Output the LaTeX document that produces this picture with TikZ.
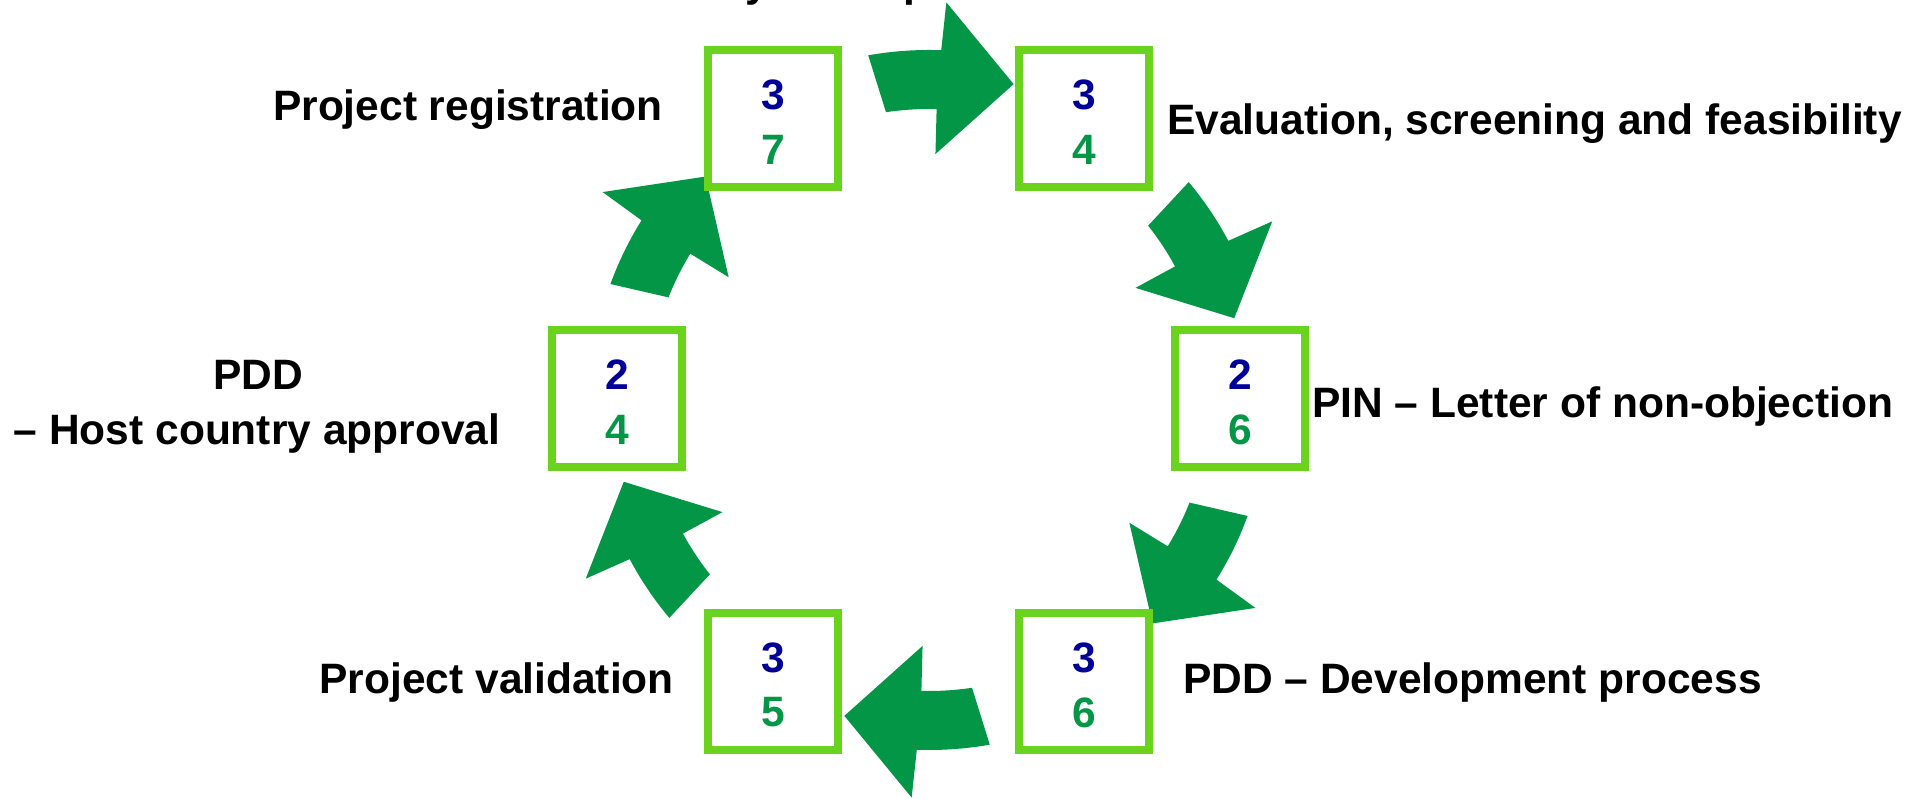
\documentclass[tikz,border=0pt]{standalone}
\usepackage{fontspec}
\setmainfont{Liberation Sans}
\definecolor{boxgreen}{RGB}{106,211,30}
\definecolor{arrowgreen}{RGB}{3,150,70}
\definecolor{numblue}{RGB}{0,0,153}
\definecolor{numgreen}{RGB}{3,150,70}
\tikzset{
  numbox/.style={draw=boxgreen, line width=8pt, minimum width=130pt, minimum height=137pt, inner sep=0pt},
  dig/.style={font=\bfseries\fontsize{42.5}{50}\selectfont, inner sep=0pt},
  lbl/.style={font=\bfseries\fontsize{42.5}{50}\selectfont, inner sep=0pt, text=black},
  cyc/.style={fill=arrowgreen}
}
\newcommand\cyclearrow[2]{%
  \begin{scope}[shift={(929,399)}, rotate=#1]
    \fill[cyc] (100:{350+#2}) arc[start angle=100, end angle=88, radius={350+#2}]
      -- (87.5:{398+#2}) -- (75:{327+#2}) -- (88.5:{246+#2}) -- (88.5:{291+#2})
      arc[start angle=88.5, end angle=98.5, radius={291+#2}] -- cycle;
  \end{scope}}
\begin{document}
\begin{tikzpicture}[x=1pt,y=1pt]
\useasboundingbox (0,0) rectangle (1926,799);
\clip (0,0) rectangle (1926,799);
\fill[white] (0,0) rectangle (1926,799);
% arrows
\cyclearrow{0}{0}
\cyclearrow{-60}{-11}
\cyclearrow{-120}{-11}
\cyclearrow{180}{0}
\cyclearrow{120}{-11}
\cyclearrow{60}{-11}
% boxes
\node[numbox] (A) at (773,680) {};
\node[numbox] (B) at (1084,680) {};
\node[numbox] (C) at (1240,400) {};
\node[numbox] (D) at (1084,117) {};
\node[numbox] (E) at (773,117) {};
\node[numbox] (F) at (617,400) {};
\foreach \b/\t/\u in {A/3/7, B/3/4, C/2/6, D/3/6, E/3/5, F/2/4}{
  \node[dig, text=numblue] (\b1) at ([yshift=24.5pt]\b.center) {\t};
  \node[dig, text=numgreen] (\b2) at ([yshift=-30.5pt]\b.center) {\u};
}
% labels
\node[lbl, anchor=base east] (LA) at (663,678) {Project registration};
\node[lbl, anchor=base west] (LB) at (1167,664) {Evaluation, screening and feasibility};
\node[lbl, anchor=base west] (LC) at (1312,381) {PIN – Letter of non-objection};
\node[lbl, anchor=base west] (LD) at (1183,105) {PDD – Development process};
\node[lbl, anchor=base east] (LE) at (674,105) {Project validation};
\node[lbl, anchor=base] (LF1) at (258,409) {PDD};
\node[lbl, anchor=base] (LF2) at (257,354) {– Host country approval};
\node[lbl, anchor=base west] (LT) at (651,802) {Study concept};
\end{tikzpicture}
\end{document}
